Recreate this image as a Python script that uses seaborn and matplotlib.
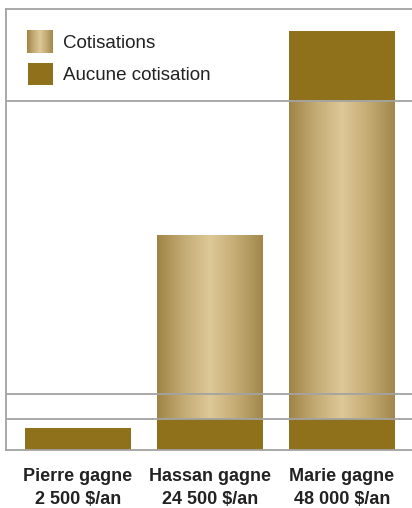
import matplotlib
matplotlib.use("Agg")
import matplotlib.pyplot as plt
from matplotlib.colors import LinearSegmentedColormap
import numpy as np
import pandas as pd
import seaborn as sns

# data ($ per year)
people = ["Pierre gagne\n2 500 $/an", "Hassan gagne\n24 500 $/an", "Marie gagne\n48 000 $/an"]
no_contrib_low = [2500, 3500, 3500]
contrib = [0, 21000, 36500]
no_contrib_high = [0, 0, 8000]
grid_levels = [3500, 6400, 40000]
legend_labels = ["Cotisations", "Aucune cotisation"]

DARK = "#8E711A"
GRID = "#a3a3a3"
gold = LinearSegmentedColormap.from_list(
    "gold", ["#9f8445", "#c4ab74", "#ddc897", "#c4ab74", "#a1874a"])
grad = np.linspace(0, 1, 256).reshape(1, -1)

sns.set_theme(style="white")
plt.rcParams["font.family"] = ["Liberation Sans", "DejaVu Sans"]

fig = plt.figure(figsize=(4.12, 5.08), dpi=100)
ax = fig.add_axes([6 / 412, 1 - 450 / 508, 1 - 6 / 412, 441 / 508])

df = pd.DataFrame({"name": people, "low": no_contrib_low,
                   "contrib": contrib, "high": no_contrib_high})
df["base_high"] = df["low"] + df["contrib"]

w = 0.8
sns.barplot(data=df, x="name", y="low", color=DARK, saturation=1, width=w,
            linewidth=0, ax=ax, zorder=2)
n0 = len(ax.patches)
sns.barplot(data=df, x="name", y="contrib", bottom=df["low"], color=DARK,
            saturation=1, width=w, linewidth=0, ax=ax, zorder=2)
gold_bars = ax.patches[n0:]
sns.barplot(data=df, x="name", y="high", bottom=df["base_high"], color=DARK,
            saturation=1, width=w, linewidth=0, ax=ax, zorder=2)

# gradient fill for contribution segments
for p in gold_bars:
    if p.get_height() <= 0:
        continue
    p.set_alpha(0)
    x0, y0 = p.get_x(), p.get_y()
    ax.imshow(grad, cmap=gold, aspect="auto", zorder=2,
              extent=[x0, x0 + p.get_width(), y0, y0 + p.get_height()])

for lvl in grid_levels:
    ax.axhline(lvl, color=GRID, lw=1.3, zorder=3)

ax.set_xlim(-0.545, 2.53)
ax.set_ylim(0, 50500)
ax.set_yticks([])
ax.set_xlabel("")
ax.set_ylabel("")
for side in ["left", "top", "bottom"]:
    ax.spines[side].set_color(GRID)
    ax.spines[side].set_linewidth(1.3)
ax.spines["right"].set_visible(False)
ax.tick_params(axis="x", length=0, pad=13)
ax.set_xticks(range(len(people)))
ax.set_xticklabels(people, fontsize=13, fontweight="bold", color="#222222",
                   linespacing=1.45)

# legend
sw1 = fig.add_axes([27 / 412, 1 - 53 / 508, 26 / 412, 23 / 508])
sw1.imshow(grad, cmap=gold, aspect="auto")
sw1.axis("off")
sw2 = fig.add_axes([28 / 412, 1 - 85 / 508, 25 / 412, 22 / 508])
sw2.set_facecolor(DARK)
sw2.set_xticks([])
sw2.set_yticks([])
for s in sw2.spines.values():
    s.set_visible(False)
fig.text(63 / 412, 1 - 43 / 508, legend_labels[0], fontsize=13.5,
         color="#222222", va="center", ha="left")
fig.text(63 / 412, 1 - 75 / 508, legend_labels[1], fontsize=13.5,
         color="#222222", va="center", ha="left")

fig.savefig("out.png", dpi=100)
